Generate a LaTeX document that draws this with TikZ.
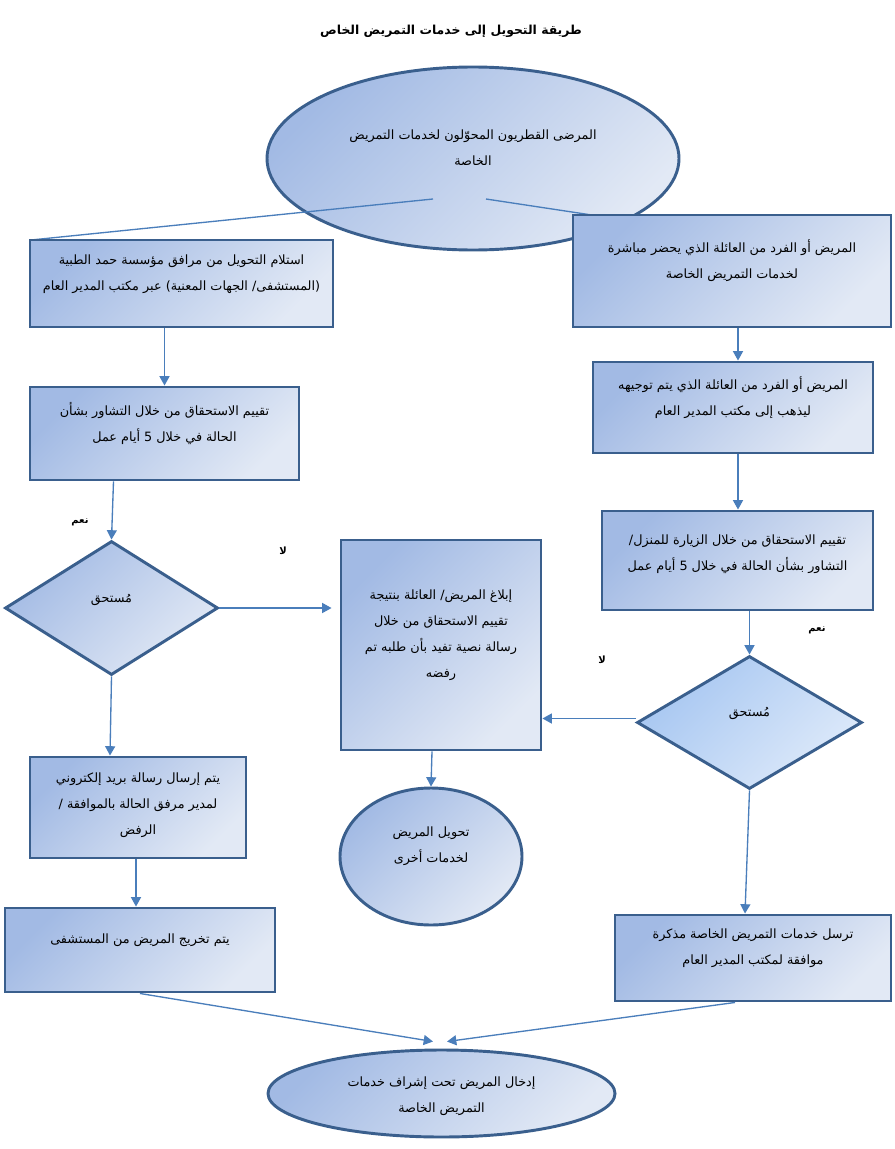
\documentclass[tikz,border=0pt]{standalone}
\usepackage{fontspec}
\usetikzlibrary{shapes.geometric,arrows.meta,calc}
\TeXXeTstate=1
\newfontfamily\arabicfont[Script=Arabic]{DejaVu Sans}
\definecolor{bordc}{HTML}{3A5F8D}
\definecolor{arrc}{HTML}{4A7EBB}
\definecolor{shA}{HTML}{A2BAE4}
\definecolor{shB}{HTML}{E2E9F5}
\definecolor{shC}{HTML}{A6C6F1}
\definecolor{shD}{HTML}{DEEAFA}
\tikzset{
  wh/.style 2 args={minimum width=#1*0.75pt, minimum height=#2*0.75pt},
  shp/.style={draw=bordc, line width=2.2pt, top color=shA, bottom color=shB, shading angle=45, inner sep=0pt},
  boxs/.style={shp, rectangle},
  ell/.style={shp, ellipse},
  dia/.style={shp, diamond},
  dia2/.style={draw=bordc, line width=2.2pt, top color=shC, bottom color=shD, shading angle=45, inner sep=0pt, diamond},
  txt/.style={font=\arabicfont\fontsize{9.6}{19.5}\selectfont, align=center, text=black},
  yn/.style={font=\arabicfont\bfseries\fontsize{7.5}{9}\selectfont, text=black},
  arr/.style={draw=arrc, line width=1pt, -{Triangle[length=7pt,width=7.5pt]}},
  ln/.style={draw=arrc, line width=1pt},
}
\begin{document}
\begin{tikzpicture}[x=0.75pt,y=-0.75pt]
\fill[white] (0,0) rectangle (895,1149);
\useasboundingbox (0,0) rectangle (895,1149);

\node[font=\arabicfont\bfseries\fontsize{9.3}{12}\selectfont] (title) at (451,31) {\beginR طريقة التحويل إلى خدمات التمريض الخاص\endR};

% top ellipse
\node[ell, wh={412}{183}, label={[txt,yshift=8pt]center:{\beginR المرضى القطريون المحوّلون لخدمات التمريض\endR\\\beginR الخاصة\endR}}] (e1) at (473,158.5) {};
\coordinate (e1l) at (433,199);
\coordinate (e1r) at (486,199);
\coordinate (hidL) at (31,240);
\coordinate (hidR) at (605,217);
\draw[ln] (e1l) -- (hidL);
\draw[ln] (e1r) -- (hidR);

% boxes
\node[boxs, wh={303}{87}, label={[txt,yshift=7pt]center:{\beginR استلام التحويل من مرافق مؤسسة حمد الطبية\endR\\\beginR (المستشفى/ الجهات المعنية) عبر مكتب المدير العام\endR}}] (b1l) at (181.5,283.5) {};
\node[boxs, wh={318}{112}, label={[txt,yshift=8pt]center:{\beginR المريض أو الفرد من العائلة الذي يحضر مباشرة\endR\\\beginR لخدمات التمريض الخاصة\endR}}] (b1r) at (732,271) {};
\node[boxs, wh={269}{93}, label={[txt,yshift=7.5pt]center:{\beginR تقييم الاستحقاق من خلال التشاور بشأن\endR\\\beginR الحالة في خلال 5 أيام عمل\endR}}] (b2l) at (164.5,433.5) {};
\node[boxs, wh={280}{91}, label={[txt,yshift=7.5pt]center:{\beginR المريض أو الفرد من العائلة الذي يتم توجيهه\endR\\\beginR ليذهب إلى مكتب المدير العام\endR}}] (b2r) at (733,407.5) {};
\node[boxs, wh={271}{99}, label={[txt,yshift=5pt]center:{\beginR تقييم الاستحقاق من خلال الزيارة للمنزل/\endR\\\beginR التشاور بشأن الحالة في خلال 5 أيام عمل\endR}}] (b3r) at (737.5,560.5) {};
\node[dia, wh={213}{134}, aspect=1.59, label={[txt,yshift=6pt]center:{\beginR مُستحق\endR}}] (d1) at (111.5,608) {};
\node[boxs, wh={200}{210}, label={[txt,yshift=7.5pt]center:{\beginR إبلاغ المريض/ العائلة بنتيجة\endR\\\beginR تقييم الاستحقاق من خلال\endR\\\beginR رسالة نصية تفيد بأن طلبه تم\endR\\\beginR رفضه\endR}}] (bm) at (441,645) {};
\node[dia2, wh={225}{133}, aspect=1.69, label={[txt,yshift=7pt]center:{\beginR مُستحق\endR}}] (d2) at (749.5,722.5) {};
\node[boxs, wh={216}{101}, label={[txt,yshift=1.5pt]center:{\beginR يتم إرسال رسالة بريد إلكتروني\endR\\\beginR لمدير مرفق الحالة بالموافقة /\endR\\\beginR الرفض\endR}}] (b3l) at (138,807.5) {};
\node[ell, wh={182}{137}, label={[txt,yshift=7.5pt]center:{\beginR تحويل المريض\endR\\\beginR لخدمات أخرى\endR}}] (e2) at (431,856.5) {};
\node[boxs, wh={270}{84}, label={[txt,yshift=7pt]center:{\beginR يتم تخريج المريض من المستشفى\endR}}] (b4l) at (140,950) {};
\node[boxs, wh={276}{86}, label={[txt,yshift=7pt]center:{\beginR ترسل خدمات التمريض الخاصة مذكرة\endR\\\beginR موافقة لمكتب المدير العام\endR}}] (b4r) at (753,958) {};
\node[ell, wh={347}{87}, label={[txt,yshift=-2pt]center:{\beginR إدخال المريض تحت إشراف خدمات\endR\\\beginR التمريض الخاصة\endR}}] (e3) at (441.5,1093.5) {};

% connectors
\draw[arr] (b2l.north |- b1l.south) -- (b2l.north);
\draw[arr] ($(b2l.south)+(-51,0)$) -- (d1.north);
\draw[arr] (d1.east) -- ($(bm.west |- d1.east)+(-8,0)$);
\draw[arr] (d1.south) -- ($(b3l.north)+(-28,0)$);
\draw[arr] ($(b3l.south)+(-2,0)$) -- ($(b4l.north)+(-4,0)$);
\draw[arr] (b4l.south) -- ($(e3.north)+(-8.5,-7)$);
\draw[arr] ($(b4r.south)+(-18,0)$) -- ($(e3.north)+(5.5,-7)$);
\draw[arr] ($(b1r.south)+(6,0)$) -- ($(b2r.north)+(5,0)$);
\draw[arr] ($(b2r.south)+(5,0)$) -- (b3r.north -| 738,0);
\draw[arr] (d2.north |- b3r.south) -- (d2.north);
\draw[arr] ($(d2.west)+(0,-4)$) -- (bm.east |- 0,718.5);
\draw[arr] (d2.south) -- ($(b4r.north)+(-8,0)$);
\draw[arr] ($(bm.south)+(-9,0)$) -- (e2.north);

% yes/no labels
\node[yn] (yes1) at (80,522) {\beginR نعم\endR};
\node[yn] (no1) at (283,551) {\beginR لا\endR};
\node[yn] (yes2) at (817,630) {\beginR نعم\endR};
\node[yn] (no2) at (602,660) {\beginR لا\endR};
\end{tikzpicture}
\end{document}
